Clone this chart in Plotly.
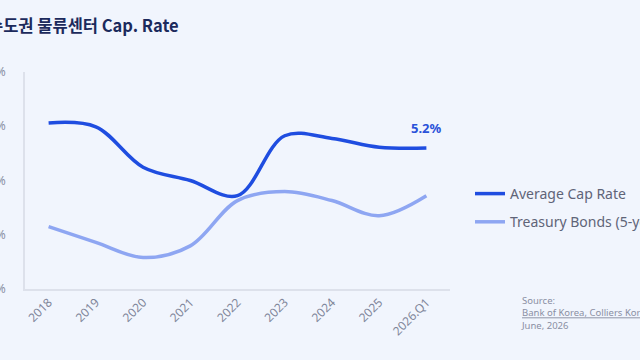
import plotly.graph_objects as go

categories = ["2018", "2019", "2020", "2021", "2022", "2023", "2024", "2025", "2026.Q1"]
cap_rate = [6.12, 5.98, 4.49, 4.0, 3.44, 5.65, 5.55, 5.23, 5.2]
treasury = [2.30, 1.72, 1.16, 1.59, 3.26, 3.59, 3.26, 2.70, 3.44]
y_ticks = [0, 2, 4, 6, 8]
y_tick_labels = ["0%", "2%", "4%", "6%", "8%"]

BG = "#f1f5fd"
L, R, T, B = 25, 190, 72, 71
PW, PH = 640 - L - R, 360 - T - B

def px_x(p):
    return (p - L) / PW

def px_y(p):
    return (360 - B - p) / PH

fig = go.Figure()
fig.add_trace(go.Scatter(
    x=categories, y=cap_rate, mode="lines", name="Average Cap Rate",
    line=dict(color="#1f4de0", width=3.5, shape="spline", smoothing=1.0),
    legendgroup="a",
))
fig.add_trace(go.Scatter(
    x=categories, y=treasury, mode="lines", name="Treasury Bonds (5-year)",
    line=dict(color="#8ea6f2", width=3.5, shape="spline", smoothing=1.0),
    legendgroup="b",
))

fig.add_annotation(x=categories[-1], y=cap_rate[-1], xref="x", yref="y",
                   text="<b>5.2%</b>", showarrow=False, yshift=20,
                   font=dict(size=13, color="#2a52d9", family="Noto Sans"))

fig.add_annotation(x=px_x(-14), y=px_y(25), xref="paper", yref="paper",
                   xanchor="left", yanchor="middle", showarrow=False,
                   text="<b>수도권 물류센터 Cap. Rate</b>",
                   font=dict(size=16.5, color="#1c2a5c", family="Noto Sans CJK KR"))

fig.add_annotation(x=px_x(519), y=px_y(292), xref="paper", yref="paper",
                   xanchor="left", yanchor="top", showarrow=False, align="left",
                   text="Source:<br><u>Bank of Korea, Colliers Korea</u><br>June, 2026",
                   font=dict(size=9.5, color="#8a8fa3", family="Noto Sans"))

fig.update_layout(
    width=640, height=360,
    margin=dict(l=L, r=R, t=T, b=B, autoexpand=False),
    paper_bgcolor=BG, plot_bgcolor=BG,
    font=dict(family="Noto Sans", color="#8a8fa3"),
    showlegend=True,
    legend=dict(x=px_x(470), y=px_y(208), xanchor="left", yanchor="middle",
                font=dict(size=14, color="#5f6478"), tracegroupgap=7,
                bgcolor="rgba(0,0,0,0)", itemwidth=30),
    xaxis=dict(type="category", range=[-0.5, 8.5], showgrid=False,
               showline=True, linecolor="#dde1eb", linewidth=1.5,
               tickangle=-45, tickfont=dict(size=12, color="#80869a"),
               ticks="", zeroline=False, automargin=False),
    yaxis=dict(range=[0, 8], tickvals=y_ticks, ticktext=y_tick_labels,
               showgrid=False, showline=True, linecolor="#dde1eb", linewidth=1.5,
               tickfont=dict(size=12, color="#8a8fa3"), ticklabelstandoff=15,
               zeroline=False, automargin=False),
)

fig.write_html("out.html")
